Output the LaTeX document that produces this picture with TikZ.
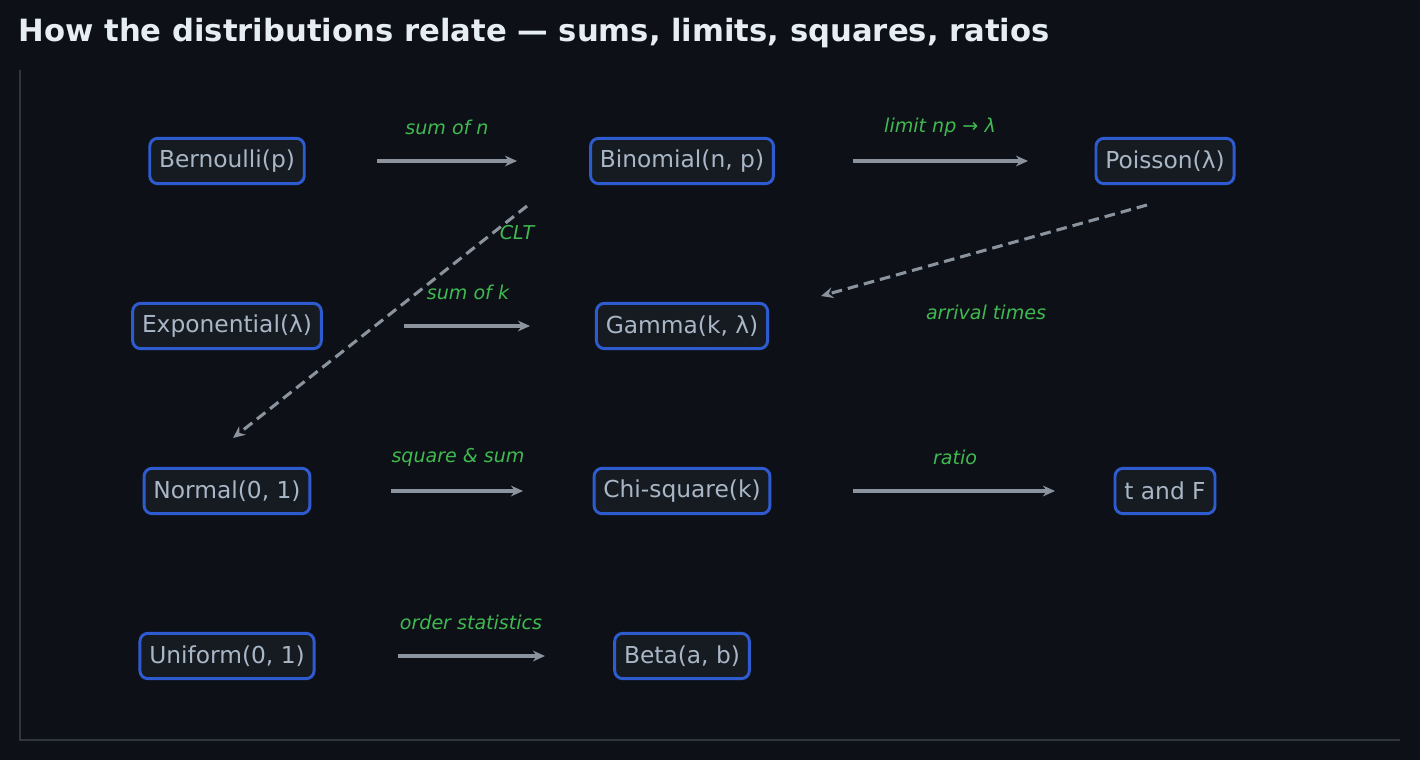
\documentclass[tikz,border=0pt]{standalone}
\usepackage{fontspec}
\setmainfont{DejaVu Sans}
\usetikzlibrary{arrows.meta}
\definecolor{bg}{HTML}{0D1117}
\definecolor{nfill}{HTML}{161B22}
\definecolor{nborder}{HTML}{2F5BD0}
\definecolor{ntext}{HTML}{A9B6C6}
\definecolor{arr}{HTML}{8B949E}
\definecolor{lab}{HTML}{3FB950}
\definecolor{ttl}{HTML}{E6EDF3}
\definecolor{axis}{HTML}{30363D}
\begin{document}
\begin{tikzpicture}[x=0.75pt,y=-0.75pt,
  dist/.style={draw=nborder,fill=nfill,line width=2.2pt,rounded corners=6pt,text=ntext,font=\fontsize{17.5}{20}\selectfont,minimum height=34pt,inner xsep=7pt},
  rel/.style={draw=arr,line width=2.3pt,-{Stealth[length=9pt,width=8pt]}},
  drel/.style={rel,dash pattern=on 8pt off 4.5pt},
  lbl/.style={text=lab,font=\fontsize{14.3}{16}\selectfont\itshape}]
\fill[bg] (0,0) rectangle (1420,760);
\useasboundingbox (0,0) rectangle (1420,760);
\node[anchor=west,text=ttl,font=\fontsize{23}{26}\selectfont\bfseries] (title) at (14,33) {How the distributions relate — sums, limits, squares, ratios};
\coordinate (a0) at (20,70); \coordinate (a1) at (20,740); \coordinate (a2) at (1400,740);
\draw[axis,line width=1.6pt] (a0) -- (a1) -- (a2);
\node[dist] (bern) at (227,161) {Bernoulli(p)};
\node[dist] (binom) at (682,161) {Binomial(n, p)};
\node[dist] (pois) at (1165,161) {Poisson(λ)};
\node[dist] (expo) at (227,326) {Exponential(λ)};
\node[dist] (gamma) at (682,326) {Gamma(k, λ)};
\node[dist] (norm) at (227,491) {Normal(0, 1)};
\node[dist] (chi) at (682,491) {Chi-square(k)};
\node[dist] (tf) at (1165,491) {t and F};
\node[dist] (unif) at (227,656) {Uniform(0, 1)};
\node[dist] (beta) at (682,656) {Beta(a, b)};
\coordinate (e1s) at (377,161); \coordinate (e1t) at (517,161);
\coordinate (e2s) at (853,161); \coordinate (e2t) at (1028,161);
\coordinate (e3s) at (404,326); \coordinate (e3t) at (530,326);
\coordinate (e4s) at (391,491); \coordinate (e4t) at (523,491);
\coordinate (e5s) at (853,491); \coordinate (e5t) at (1055,491);
\coordinate (e6s) at (398,656); \coordinate (e6t) at (545,656);
\coordinate (d1s) at (527,206); \coordinate (d1t) at (233,438);
\coordinate (d2s) at (1147,205); \coordinate (d2t) at (821,296);
\draw[rel] (e1s) -- (e1t); \node[lbl] (l1) at (447,127) {sum of n};
\draw[rel] (e2s) -- (e2t); \node[lbl] (l2) at (940,127) {limit np → λ};
\draw[rel] (e3s) -- (e3t); \node[lbl] (l3) at (468,292) {sum of k};
\draw[rel] (e4s) -- (e4t); \node[lbl] (l4) at (458,457) {square \& sum};
\draw[rel] (e5s) -- (e5t); \node[lbl] (l5) at (955,457) {ratio};
\draw[rel] (e6s) -- (e6t); \node[lbl] (l6) at (471,622) {order statistics};
\draw[drel] (d1s) -- (d1t); \node[lbl] (l7) at (517,233) {CLT};
\draw[drel] (d2s) -- (d2t); \node[lbl] (l8) at (986,312) {arrival times};
\end{tikzpicture}
\end{document}
